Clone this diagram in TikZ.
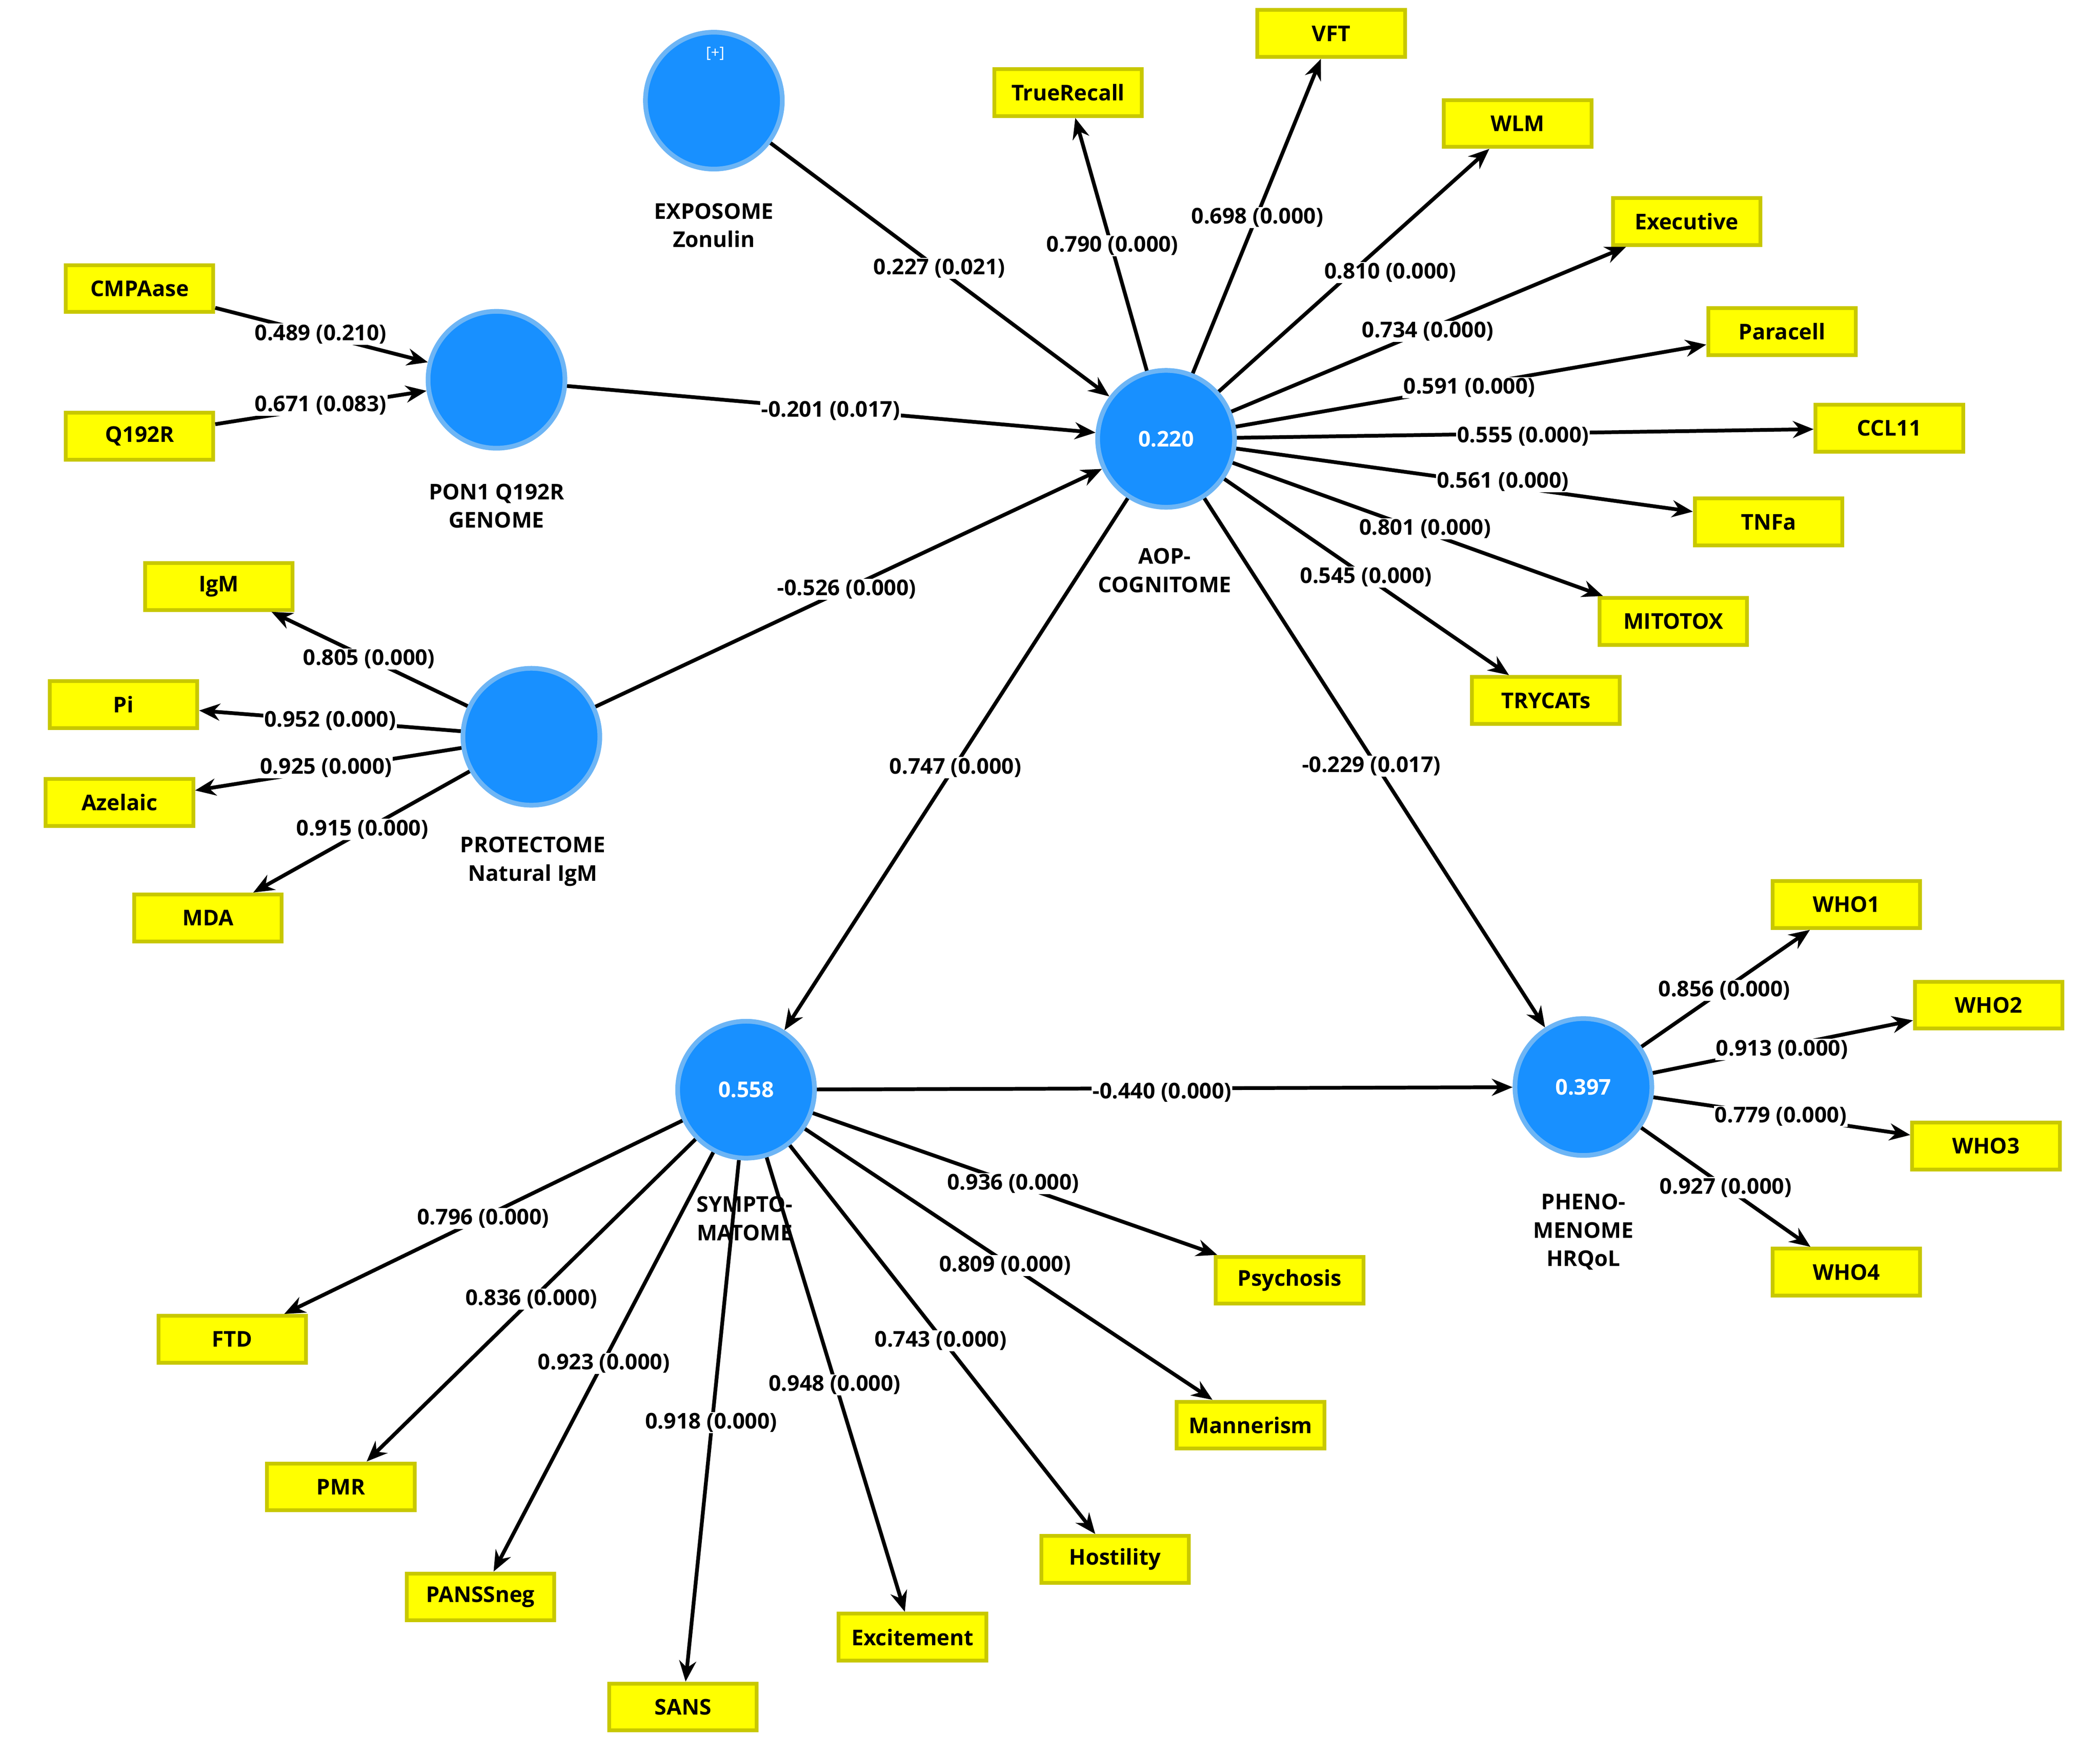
\documentclass[tikz,border=0pt]{standalone}
\usepackage{fontspec}
\setmainfont{Open Sans}
\usetikzlibrary{arrows.meta}
\definecolor{lvfill}{HTML}{1890FF}
\definecolor{lvdraw}{HTML}{6DB5F5}
\definecolor{mvfill}{HTML}{FFFF00}
\definecolor{mvdraw}{HTML}{C8C800}
\begin{document}
\begin{tikzpicture}[x=0.05cm,y=-0.05cm,
 font=\fontsize{23}{27}\selectfont\bfseries,
 lv/.style={circle,fill=lvfill,draw=lvdraw,line width=5pt,minimum size=5.1cm,text=white,inner sep=0pt},
 mv/.style={rectangle,fill=mvfill,draw=mvdraw,line width=4pt,minimum width=5.5cm,minimum height=1.75cm,inner sep=2pt},
 lvt/.style={align=center,font=\fontsize{23}{30}\selectfont\bfseries},
 lab/.style={fill=white,inner sep=1pt},
 ar/.style={line width=4pt,-{Stealth[length=22pt,width=18pt]}}]
\useasboundingbox (0,0) rectangle (1565,1309);
% latent variables
\node[lv] (EXP) at (532,75) {};
\node[text=white,font=\fontsize{16}{18}\selectfont] (plus) at (533,40) {[+]};
\node[lv] (PON) at (370,283) {};
\node[lv] (PRO) at (396,549) {};
\node[lv] (AOP) at (869,327) {0.220};
\node[lv] (SYM) at (556,812) {0.558};
\node[lv] (PHE) at (1180,810) {0.397};
\node[lvt] (tEXP) at (532,168) {EXPOSOME\\Zonulin};
\node[lvt] (tPON) at (370,377) {PON1 Q192R\\GENOME};
\node[lvt] (tPRO) at (397,642) {PROTECTOME\\Natural IgM};
\node[lvt] (tAOP) at (868,425) {AOP-\\COGNITOME};
\node[lvt] (tSYM) at (555,908) {SYMPTO-\\MATOME};
\node[lvt] (tPHE) at (1180,918) {PHENO-\\MENOME\\HRQoL};
% indicators
\foreach \n/\x/\y in {VFT/992/25,TrueRecall/796/69,WLM/1131/92,Executive/1257/165,Paracell/1328/247,CCL11/1408/319,TNFa/1318/389,MITOTOX/1247/463,TRYCATs/1152/522,CMPAase/104/215,Q192R/104/325,IgM/163/437,Pi/92/525,Azelaic/89/598,MDA/155/684,WHO1/1376/674,WHO2/1482/749,WHO3/1480/854,WHO4/1376/948,Psychosis/961/954,FTD/173/998,Mannerism/932/1062,PMR/254/1108,Hostility/831/1162,PANSSneg/358/1190,Excitement/680/1220,SANS/509/1272}
  \node[mv] (\n) at (\x,\y) {\n};
% structural paths
\draw[ar] (EXP) -- (AOP);
\draw[ar] (PON) -- (AOP);
\draw[ar] (PRO) -- (AOP);
\draw[ar] (AOP) -- (SYM);
\draw[ar] (AOP) -- (PHE);
\draw[ar] (SYM) -- (PHE);
\draw[ar] (CMPAase) -- (PON);
\draw[ar] (Q192R) -- (PON);
\foreach \n in {VFT,TrueRecall,WLM,Executive,Paracell,CCL11,TNFa,MITOTOX,TRYCATs} \draw[ar] (AOP) -- (\n);
\foreach \n in {IgM,Pi,Azelaic,MDA} \draw[ar] (PRO) -- (\n);
\foreach \n in {WHO1,WHO2,WHO3,WHO4} \draw[ar] (PHE) -- (\n);
\foreach \n in {Psychosis,FTD,Mannerism,PMR,Hostility,PANSSneg,Excitement,SANS} \draw[ar] (SYM) -- (\n);
% labels
\foreach \t/\x/\y [count=\i] in {0.227 (0.021)/700/200,0.790 (0.000)/829/183,0.698 (0.000)/937/162,0.810 (0.000)/1036/203,0.734 (0.000)/1064/247,0.591 (0.000)/1095/289,0.555 (0.000)/1135/325,0.561 (0.000)/1120/359,0.801 (0.000)/1062/394,0.545 (0.000)/1018/430,0.489 (0.210)/239/249,0.671 (0.083)/239/302,-0.201 (0.017)/619/306,-0.526 (0.000)/631/439,0.805 (0.000)/275/491,0.952 (0.000)/246/537,0.925 (0.000)/243/572,0.915 (0.000)/270/618,0.747 (0.000)/712/572,-0.229 (0.017)/1022/571,-0.440 (0.000)/866/814,0.856 (0.000)/1285/738,0.913 (0.000)/1328/782,0.779 (0.000)/1327/832,0.927 (0.000)/1286/885,0.936 (0.000)/755/882,0.796 (0.000)/360/908,0.809 (0.000)/749/943,0.836 (0.000)/396/968,0.743 (0.000)/701/999,0.923 (0.000)/450/1016,0.948 (0.000)/622/1032,0.918 (0.000)/530/1060}
  \node[lab] (L\i) at (\x,\y) {\t};
\end{tikzpicture}
\end{document}
